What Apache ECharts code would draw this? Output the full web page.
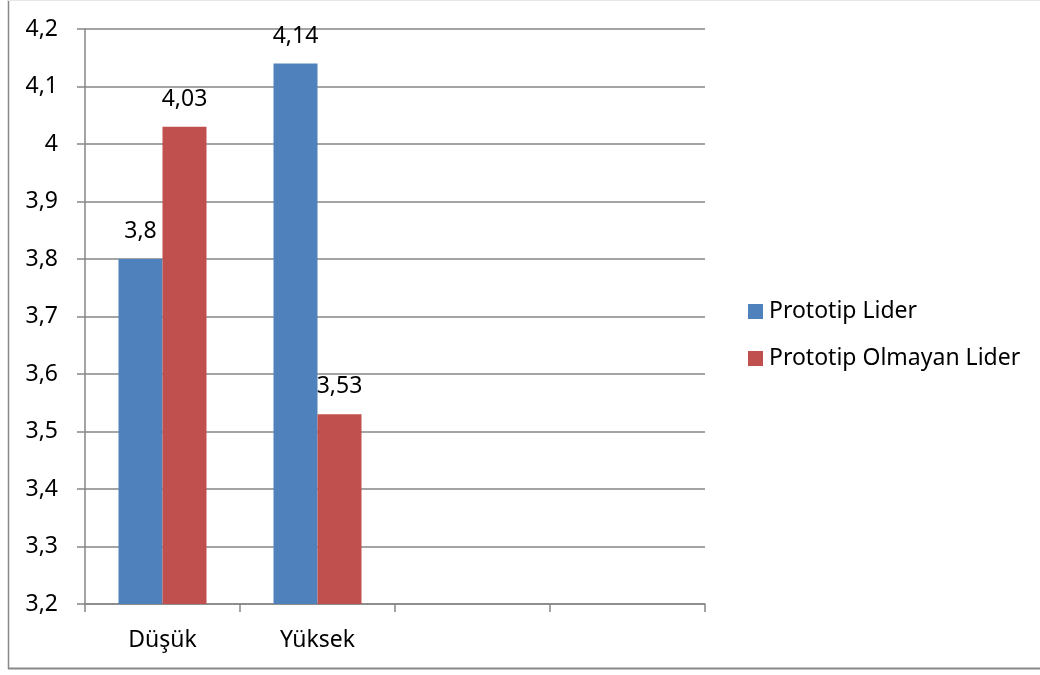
<!DOCTYPE html>
<html>
<head>
<meta charset="utf-8">
<script src="https://cdn.jsdelivr.net/npm/echarts@6/dist/echarts.min.js"></script>
<style>html,body{margin:0;padding:0;background:#fff;}#c{width:1040px;height:675px;}</style>
</head>
<body>
<div id="c"></div>
<script>
const categories = ['Düşük', 'Yüksek', '', ''];
const seriesNames = ['Prototip Lider', 'Prototip Olmayan Lider'];
const prototipLider = [3.8, 4.14, null, null];
const prototipOlmayanLider = [4.03, 3.53, null, null];
const yMin = 3.2, yMax = 4.2, yStep = 0.1;

const FONT = 'Noto Sans';
const FS = 23;
const fmt = v => String(Math.round(v * 100) / 100).replace('.', ',');
const chart = echarts.init(document.getElementById('c'), null, {renderer: 'canvas'});
const labelCfg = {show: true, position: 'top', distance: 16, color: '#000', fontFamily: FONT, fontSize: FS,
  formatter: p => fmt(p.value)};
chart.setOption({
  animation: false,
  backgroundColor: '#fff',
  textStyle: {fontFamily: FONT},
  graphic: [
    {type: 'line', shape: {x1: 8.5, y1: 0, x2: 8.5, y2: 669}, style: {stroke: '#888', lineWidth: 1.5}},
    {type: 'line', shape: {x1: 8, y1: 668.5, x2: 1040, y2: 668.5}, style: {stroke: '#888', lineWidth: 2}},
    {type: 'line', shape: {x1: 8, y1: 0.5, x2: 1040, y2: 0.5}, style: {stroke: '#e6e6e6', lineWidth: 1}}
  ],
  grid: {left: 85, right: 335, top: 29, bottom: 71, containLabel: false},
  legend: {
    orient: 'vertical', left: 743, top: 295, itemWidth: 15, itemHeight: 15, itemGap: 24,
    icon: 'rect',
    textStyle: {fontFamily: FONT, fontSize: FS, color: '#000', padding: [0, 0, 0, 1]},
    data: seriesNames
  },
  xAxis: {
    type: 'category', data: categories,
    axisLine: {lineStyle: {color: '#868686', width: 1.5}},
    axisTick: {show: true, length: 8, lineStyle: {color: '#868686', width: 1.5}},
    axisLabel: {color: '#000', fontFamily: FONT, fontSize: FS, margin: 25}
  },
  yAxis: {
    type: 'value', min: yMin, max: yMax, interval: yStep,
    axisLine: {show: true, lineStyle: {color: '#868686', width: 1.5}},
    axisTick: {show: true, length: 8, lineStyle: {color: '#868686', width: 1.5}},
    axisLabel: {color: '#000', fontFamily: FONT, fontSize: FS, margin: 27, formatter: v => fmt(Math.round(v * 10) / 10)},
    splitLine: {show: true, lineStyle: {color: '#868686', width: 1.5}}
  },
  series: [
    {name: seriesNames[0], type: 'bar', data: prototipLider, barWidth: 44, barGap: '0%',
      itemStyle: {color: '#4F81BD'}, label: labelCfg},
    {name: seriesNames[1], type: 'bar', data: prototipOlmayanLider, barWidth: 44, barGap: '0%',
      itemStyle: {color: '#C0504D'}, label: labelCfg}
  ]
});
</script>
</body>
</html>
